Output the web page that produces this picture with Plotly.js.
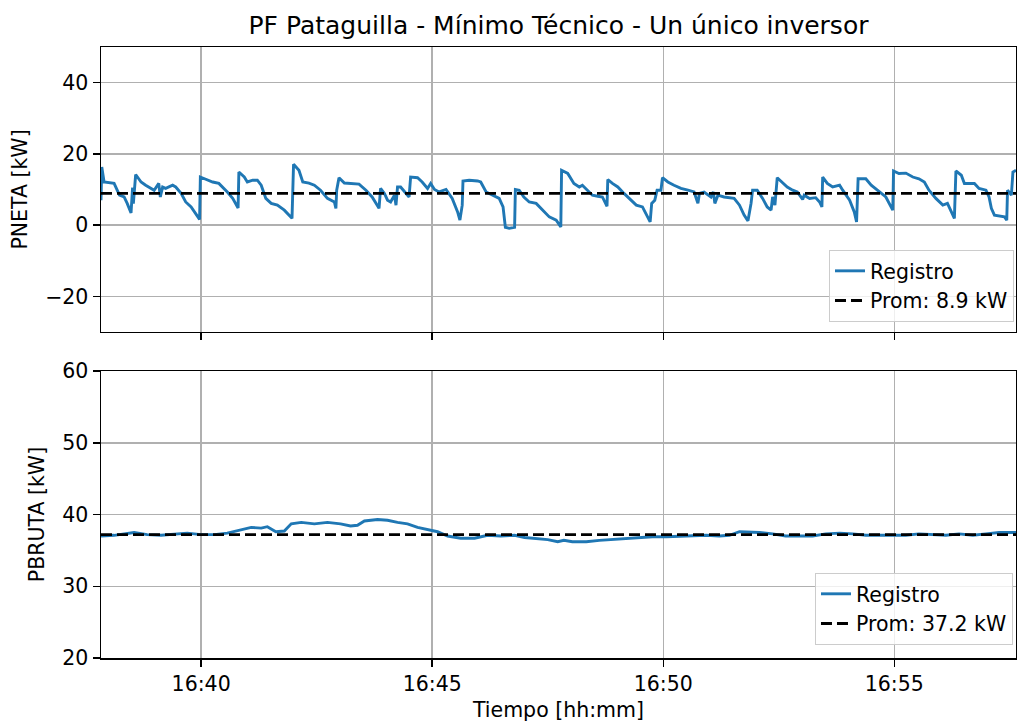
<!DOCTYPE html>
<html>
<head>
<meta charset="utf-8">
<script src="https://cdn.plot.ly/plotly-3.0.1.min.js"></script>
<style>html,body{margin:0;padding:0;background:#fff;}#chart{width:1017px;height:722px;}</style>
</head>
<body>
<div id="chart"></div>
<script>
// Seconds elapsed since 16:37:00 for each PNETA sample
const pnetaSeconds = [50,51,54,61,67,74,80,84,89,91,92,95,102,108,115,119,125,127,130,134,143,147,154,160,167,173,178,179,188,195,203,208,214,221,228,229,236,240,247,253,258,264,271,279,288,298,300,307,312,320,327,335,344,353,355,356,359,366,376,385,394,402,411,413,418,422,426,431,433,435,439,444,450,452,461,467,474,478,483,489,498,506,513,516,519,520,528,539,543,550,558,567,572,575,580,587,588,593,599,606,615,623,632,641,647,648,656,664,671,675,682,688,695,701,707,708,714,721,729,738,745,753,760,763,765,769,772,777,779,786,794,803,812,820,825,827,833,842,845,847,851,859,872,879,885,890,894,896,902,909,915,920,922,925,928,935,941,948,954,961,963,970,978,983,986,987,993,1000,1009,1013,1022,1028,1031,1033,1043,1050,1061,1069,1078,1079,1086,1095,1104,1112,1119,1125,1134,1143,1149,1158,1160,1167,1171,1177,1184,1190,1199,1203,1206,1210,1219,1223,1226,1227,1232,1234,1238];
// PNETA values [kW]
const pnetaKW = [7.0,16.3,12.1,11.8,11.7,8.4,7.9,6.1,3.4,10.5,6.0,14.2,12.1,11.2,10.3,9.8,11.7,7.9,10.7,10.3,11.2,10.7,8.9,6.5,5.1,3.1,1.6,13.5,12.6,12.1,11.7,10.7,9.3,7.5,4.8,14.9,13.5,12.1,12.6,12.6,11.2,7.5,6.1,5.6,4.2,1.9,17.1,15.4,12.1,11.8,11.2,9.8,7.5,6.5,4.7,9.8,13.3,11.8,11.7,11.5,9.8,7.9,4.7,10.3,8.9,7.0,6.5,8.4,5.6,10.7,10.7,9.3,7.9,13.5,13.3,12.1,10.3,11.7,10.0,9.3,10.0,7.5,3.7,1.4,5.6,12.4,12.6,12.4,12.1,9.3,8.4,7.5,5.1,-0.6,-0.9,-0.6,10.0,9.8,7.9,6.5,6.1,4.2,2.3,1.4,-0.5,15.4,14.5,11.7,10.7,11.2,9.8,8.4,8.1,7.9,5.3,12.8,11.7,10.7,8.9,7.0,5.6,5.1,2.3,0.9,6.1,7.0,9.8,9.8,13.3,12.1,11.2,10.3,9.8,9.3,6.1,8.9,9.3,7.9,9.3,6.1,8.4,7.9,7.5,5.6,2.8,1.2,6.1,9.8,9.8,7.5,5.1,4.2,7.9,5.6,13.3,11.8,10.7,9.8,9.3,7.2,8.4,7.5,7.7,6.5,5.1,13.5,11.7,10.7,11.2,9.8,7.0,3.7,0.9,13.0,13.0,11.2,9.3,7.9,4.2,15.2,14.5,14.6,13.5,13.0,12.1,9.8,7.5,5.6,6.1,1.9,15.2,14.0,11.7,11.7,11.7,10.3,9.8,7.9,4.7,2.8,2.5,2.3,1.4,9.8,8.4,14.9,15.4];

// Seconds elapsed since 16:37:00 for each PBRUTA sample
const pbrutaSeconds = [50,67,93,110,128,145,162,180,197,214,227,245,258,266,277,288,297,310,327,344,361,374,383,392,409,422,435,448,461,474,487,500,517,535,552,569,587,600,613,630,643,651,662,680,697,714,732,749,766,784,801,818,836,853,866,879,892,905,922,939,957,974,991,1009,1026,1043,1061,1078,1095,1112,1130,1147,1164,1182,1199,1216,1234,1238];
// PBRUTA values [kW]
const pbrutaKW = [37.0,37.1,37.5,37.2,37.1,37.2,37.4,37.2,37.2,37.4,37.7,38.2,38.1,38.3,37.6,37.7,38.7,38.9,38.7,38.9,38.7,38.4,38.5,39.1,39.3,39.2,38.9,38.7,38.2,37.9,37.6,37.0,36.7,36.7,37.1,37.0,37.1,36.8,36.7,36.5,36.2,36.4,36.2,36.2,36.4,36.5,36.7,36.7,36.9,36.9,37.0,37.0,37.1,37.0,37.1,37.6,37.6,37.5,37.3,37.0,37.0,37.0,37.3,37.4,37.3,37.1,37.1,37.1,37.1,37.3,37.2,37.1,37.3,37.1,37.3,37.5,37.5,37.5];

const promPneta = 8.9;
const promPbruta = 37.2;

const titleText = 'PF Pataguilla - Mínimo Técnico - Un único inversor';
const yLabelTop = 'PNETA [kW]';
const yLabelBottom = 'PBRUTA [kW]';
const xLabel = 'Tiempo [hh:mm]';
const seriesName = 'Registro';
const tickTimes = ['16:40:00','16:45:00','16:50:00','16:55:00'];

const DAY = '2024-01-01 ';
function toStamp(s) {
  const m = 37 + Math.floor(s / 60);
  const sec = s % 60;
  return DAY + '16:' + String(m).padStart(2, '0') + ':' + String(sec).padStart(2, '0');
}
const xTop = pnetaSeconds.map(toStamp);
const xBot = pbrutaSeconds.map(toStamp);
const xStart = xTop[0], xEnd = xTop[xTop.length - 1];

const FONT = 'DejaVu Sans, Liberation Sans, sans-serif';
const FS = 20.5;
const BLUE = '#1f77b4';
const LW = 2.9;
const GRID = '#b0b0b0';

const traces = [
  {x: xTop, y: pnetaKW, type: 'scatter', mode: 'lines', name: seriesName,
   line: {color: BLUE, width: LW}, xaxis: 'x', yaxis: 'y', legend: 'legend'},
  {x: [xStart, xEnd], y: [promPneta, promPneta], type: 'scatter', mode: 'lines',
   name: 'Prom: ' + promPneta.toFixed(1) + ' kW',
   line: {color: '#000', width: LW, dash: '11px,5px'}, xaxis: 'x', yaxis: 'y', legend: 'legend'},
  {x: xBot, y: pbrutaKW, type: 'scatter', mode: 'lines', name: seriesName,
   line: {color: BLUE, width: LW}, xaxis: 'x2', yaxis: 'y2', legend: 'legend2'},
  {x: [xStart, xEnd], y: [promPbruta, promPbruta], type: 'scatter', mode: 'lines',
   name: 'Prom: ' + promPbruta.toFixed(1) + ' kW',
   line: {color: '#000', width: LW, dash: '11px,5px'}, xaxis: 'x2', yaxis: 'y2', legend: 'legend2'}
];

const axisCommon = {
  showline: true, mirror: true, linecolor: '#000', linewidth: 1.5,
  ticks: 'outside', ticklen: 7, tickwidth: 1.5, tickcolor: '#000',
  showgrid: true, gridcolor: GRID, gridwidth: 1.5, zeroline: false,
  automargin: false, tickfont: {family: FONT, size: FS, color: '#000'}
};
const xCommon = Object.assign({}, axisCommon, {
  type: 'date', range: [xStart, xEnd], tickvals: tickTimes.map(t => DAY + t),
  tickformat: '%H:%M'
});

const legendCommon = {
  bgcolor: 'rgba(255,255,255,0.8)', bordercolor: '#cccccc', borderwidth: 1,
  font: {family: FONT, size: FS, color: '#000'}, xanchor: 'right', yanchor: 'bottom',
  xref: 'paper', yref: 'paper'
};

const layout = {
  width: 1017, height: 722,
  margin: {l: 101, r: 1, t: 47, b: 64, pad: 0},
  paper_bgcolor: '#fff', plot_bgcolor: '#fff',
  font: {family: FONT, size: FS, color: '#000'},
  title: {text: titleText, font: {family: FONT, size: 25, color: '#000'},
          x: 0.5, xref: 'paper', y: 0.9654, yref: 'container', yanchor: 'middle'},
  xaxis: Object.assign({}, xCommon, {anchor: 'y', domain: [0, 1], showticklabels: false, matches: 'x2'}),
  yaxis: Object.assign({}, axisCommon, {anchor: 'x', domain: [0.5336, 1], range: [-30, 50],
          tickvals: [-20, 0, 20, 40],
          title: {text: yLabelTop, font: {family: FONT, size: FS, color: '#000'}, standoff: 12}}),
  xaxis2: Object.assign({}, xCommon, {anchor: 'y2', domain: [0, 1],
          title: {text: xLabel, font: {family: FONT, size: FS, color: '#000'}, standoff: 9}}),
  yaxis2: Object.assign({}, axisCommon, {anchor: 'x2', domain: [0, 0.4697], range: [20, 60],
          tickvals: [20, 30, 40, 50, 60],
          title: {text: yLabelBottom, font: {family: FONT, size: FS, color: '#000'}, standoff: 12}}),
  legend: Object.assign({}, legendCommon, {x: 0.9978, y: 0.5499}),
  legend2: Object.assign({}, legendCommon, {x: 0.9967, y: 0.0213}),
  showlegend: true
};

Plotly.newPlot('chart', traces, layout, {staticPlot: true, displayModeBar: false});
</script>
</body>
</html>
